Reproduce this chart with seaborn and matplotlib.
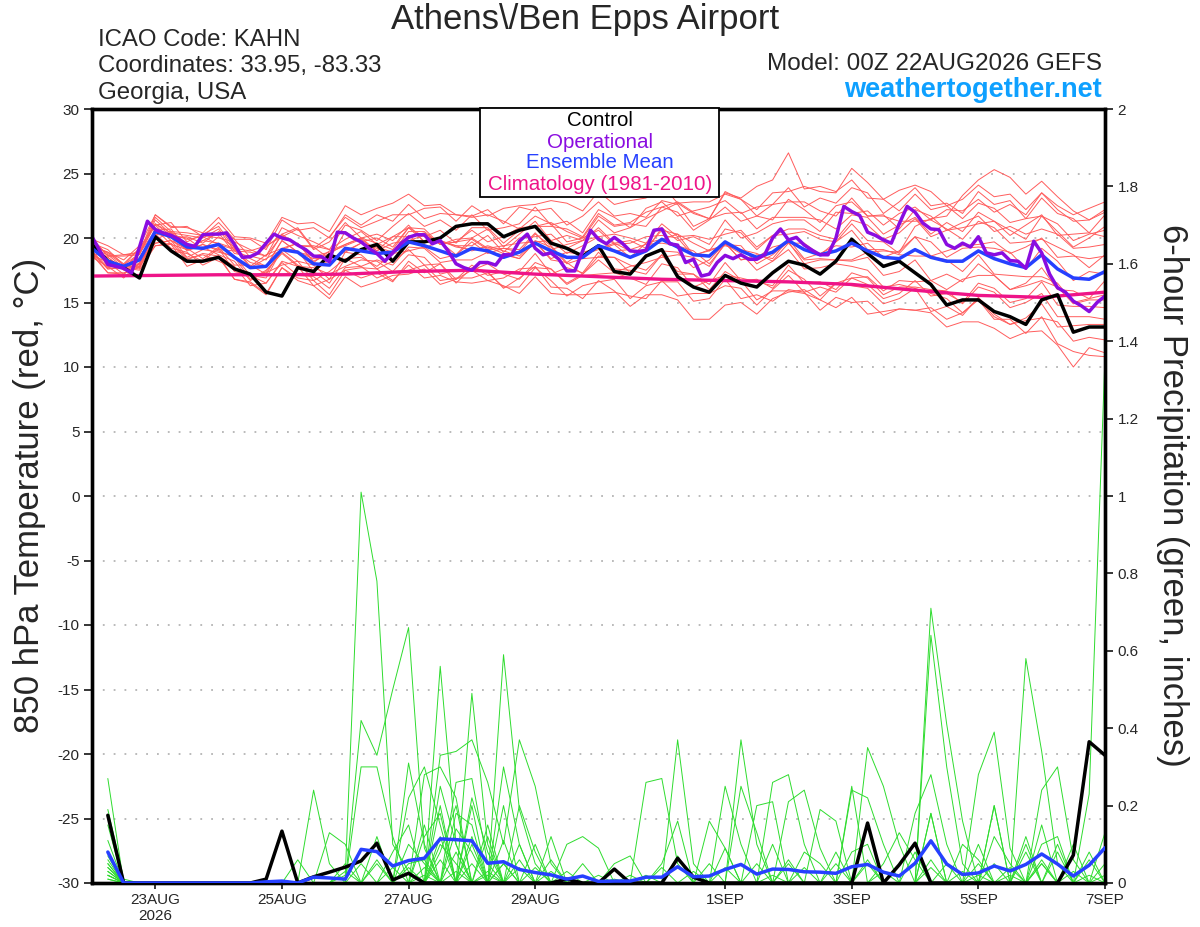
import matplotlib
matplotlib.use("Agg")
import matplotlib.pyplot as plt
from matplotlib.patches import Rectangle
import pandas as pd
import seaborn as sns

# ---------------------------------------------------------------------------
# data: GEFS 00Z 22AUG2026, KAHN. time axis in 6-hour steps from 00Z 22AUG
# ---------------------------------------------------------------------------
steps = list(range(65))                  # 00Z 22AUG .. 00Z 7SEP
prcp_steps = list(range(1, 65))          # 6-hour totals end at 06Z 22AUG onward
op_steps = [k / 2 for k in range(129)]   # operational run is 3-hourly
clim_steps = list(range(0, 65, 4))       # daily climatology

tick_steps = [4, 12, 20, 28, 40, 48, 56, 64]
tick_labels = ["23AUG\n2026", "25AUG", "27AUG", "29AUG", "1SEP", "3SEP", "5SEP", "7SEP"]

control_temp = [19.5, 18.2, 17.7, 16.9, 20.1, 19.0, 18.2, 18.2, 18.5, 17.6,
                17.2, 15.8, 15.5, 17.7, 17.4, 18.7, 18.2, 19.1, 19.5, 18.2,
                19.7, 19.7, 20.0, 20.9, 21.1, 21.1, 20.1, 20.6, 20.9, 19.6,
                19.2, 18.6, 19.4, 17.4, 17.2, 18.6, 19.1, 17.0, 16.2, 15.8,
                17.1, 16.5, 16.2, 17.3, 18.2, 17.9, 17.2, 18.2, 19.9, 18.8,
                17.8, 18.2, 17.3, 16.4, 14.8, 15.2, 15.2, 14.3, 13.9, 13.3,
                15.2, 15.6, 12.7, 13.1, 13.1]

mean_temp = [19.2, 18.2, 17.8, 18.3, 20.5, 20.1, 19.3, 19.2, 19.5, 18.5,
             17.7, 17.8, 19.1, 18.9, 18.0, 17.9, 19.2, 19.0, 18.8, 18.9,
             19.7, 19.4, 19.0, 18.6, 19.2, 19.0, 18.5, 18.9, 19.6, 19.0,
             18.5, 18.5, 19.4, 19.0, 18.5, 19.0, 19.9, 19.3, 18.7, 18.6,
             19.7, 19.0, 18.5, 18.9, 19.8, 19.1, 18.7, 19.0, 19.6, 19.0,
             18.5, 18.4, 19.1, 18.5, 18.2, 18.2, 19.0, 18.4, 18.0, 17.7,
             18.7, 17.6, 16.9, 16.8, 17.4]

op_temp = [20.1, 19.0, 17.95, 17.8, 17.65, 17.3, 19.3, 21.3, 20.65, 20.4,
           20.2, 19.9, 19.5, 19.35, 20.25, 20.3, 20.3, 20.4, 19.5, 18.5,
           18.55, 18.85, 19.6, 20.3, 20.0, 19.85, 19.45, 19.1, 18.6, 18.55,
           18.15, 20.45, 20.4, 20.0, 19.7, 19.2, 18.8, 18.2, 18.85, 19.55,
           20.05, 20.25, 20.25, 19.55, 19.8, 19.0, 18.0, 17.7, 17.5, 18.1,
           18.1, 17.9, 18.7, 18.7, 19.75, 20.3, 19.2, 18.7, 18.85, 18.35,
           17.45, 17.45, 19.0, 20.6, 19.9, 19.55, 20.05, 19.6, 19.0, 18.95,
           19.05, 20.6, 20.7, 19.55, 19.45, 18.1, 18.35, 17.05, 17.2, 18.1,
           18.65, 18.4, 18.7, 18.35, 18.35, 18.7, 20.0, 20.7, 19.85, 20.05,
           19.45, 19.05, 18.7, 18.7, 20.0, 22.45, 22.05, 21.75, 20.45, 20.2,
           19.85, 19.6, 21.1, 22.45, 22.0, 21.15, 20.7, 20.65, 19.5, 19.2,
           19.6, 19.3, 20.1, 18.85, 18.7, 18.85, 18.25, 18.2, 17.65, 19.75,
           18.85, 17.2, 16.15, 15.8, 15.1, 14.75, 14.3, 15.0, 15.5]

clim_temp = [17.05, 17.1, 17.15, 17.15, 17.2, 17.4, 17.5, 17.2, 17.0,
             16.8, 16.7, 16.6, 16.4, 15.95, 15.55, 15.4, 15.8]

member_temp = [
    [19.5, 18.8, 17.9, 19.2, 21.1, 20.4, 20.2, 20.0, 20.7, 19.0, 18.9, 18.6, 20.8, 20.2, 19.7, 19.1, 21.0,
     20.6, 19.8, 20.9, 21.9, 20.9, 21.4, 20.6, 21.8, 20.6, 20.8, 21.1, 22.4, 21.0, 21.3, 20.4, 22.2,
     21.6, 20.8, 22.3, 22.8, 21.7, 22.1, 22.4, 22.9, 21.9, 22.4, 22.6, 23.9, 22.4, 23.1, 22.7, 23.9,
     23.5, 21.9, 22.8, 23.9, 22.5, 22.7, 21.9, 23.6, 22.6, 22.9, 21.5, 23.1, 21.9, 21.5, 20.4, 21.8],
    [18.9, 17.6, 17.7, 17.5, 19.4, 19.6, 18.3, 18.8, 18.6, 17.8, 16.3, 16.5, 18.1, 17.1, 17.0, 16.1, 17.7,
     17.8, 16.9, 17.4, 17.5, 17.9, 16.7, 16.9, 16.9, 17.3, 16.2, 16.2, 17.7, 16.7, 15.5, 16.3, 16.6,
     16.8, 15.3, 16.3, 16.6, 16.6, 15.1, 15.3, 16.8, 15.3, 15.6, 15.1, 16.0, 15.8, 14.4, 15.4, 15.0,
     15.1, 14.0, 14.5, 14.4, 14.2, 13.1, 13.5, 13.5, 13.0, 12.2, 12.7, 12.8, 11.7, 10.0, 11.5, 11.1],
    [19.9, 18.6, 18.7, 18.9, 21.8, 20.8, 20.9, 20.1, 21.2, 19.9, 19.9, 19.1, 21.4, 20.6, 20.8, 20.0, 21.8,
     21.0, 21.8, 21.3, 22.6, 21.5, 21.9, 21.8, 21.7, 22.2, 21.1, 22.4, 22.1, 22.3, 21.0, 21.7, 22.8,
     21.7, 21.9, 21.6, 22.9, 22.6, 20.9, 21.5, 21.9, 22.0, 20.7, 21.6, 21.6, 21.6, 21.4, 20.7, 21.8,
     21.6, 20.3, 21.0, 21.6, 20.3, 21.2, 20.5, 22.0, 21.3, 20.2, 21.0, 21.8, 20.2, 20.3, 20.4, 20.1],
    [18.8, 17.3, 17.3, 17.8, 19.4, 19.5, 17.8, 18.3, 18.6, 16.8, 16.6, 15.7, 17.7, 16.9, 16.7, 15.6, 17.5,
     16.9, 17.3, 16.6, 18.2, 17.3, 18.0, 16.8, 17.9, 17.1, 17.4, 17.4, 18.8, 17.2, 17.7, 17.3, 18.9,
     17.6, 17.5, 17.2, 18.7, 17.2, 17.2, 16.4, 18.1, 16.7, 16.8, 16.1, 17.5, 16.8, 15.5, 16.5, 16.3,
     16.1, 14.9, 15.3, 16.1, 14.3, 14.7, 14.0, 15.4, 14.1, 13.3, 13.6, 13.8, 13.5, 12.0, 12.3, 12.1],
    [19.2, 18.7, 17.7, 18.8, 21.1, 20.2, 20.0, 19.1, 20.1, 19.3, 17.8, 18.7, 19.2, 19.6, 18.1, 19.0, 19.5,
     20.0, 19.6, 19.1, 20.8, 20.7, 19.5, 19.9, 20.0, 20.7, 19.3, 20.3, 21.3, 19.8, 20.2, 19.8, 21.4,
     20.4, 20.8, 21.5, 22.1, 22.7, 21.9, 21.5, 23.5, 23.1, 24.0, 24.5, 26.6, 23.8, 24.0, 23.6, 24.5,
     23.1, 23.0, 22.1, 23.4, 22.2, 22.5, 21.5, 22.7, 22.3, 21.2, 21.5, 21.7, 21.1, 19.8, 20.3, 20.6],
    [19.3, 17.9, 17.9, 17.7, 20.3, 20.1, 18.5, 19.1, 18.9, 18.6, 17.1, 16.9, 19.1, 18.2, 17.9, 16.8, 18.9,
     18.7, 17.6, 18.2, 19.1, 17.9, 18.0, 16.5, 17.7, 17.4, 16.1, 16.9, 17.8, 16.2, 16.1, 15.3, 16.7,
     15.9, 14.7, 15.6, 15.6, 15.2, 13.7, 13.7, 14.8, 15.0, 14.1, 15.3, 15.8, 16.0, 15.2, 16.5, 16.9,
     17.0, 15.9, 16.7, 16.6, 16.7, 16.0, 16.8, 17.1, 17.1, 16.0, 16.5, 17.7, 16.0, 15.9, 15.3, 16.7],
    [19.9, 19.4, 18.7, 18.8, 21.6, 20.5, 20.4, 20.2, 20.0, 19.7, 19.1, 18.6, 20.2, 19.4, 19.4, 19.1, 19.9,
     20.5, 19.5, 20.1, 20.1, 20.4, 19.5, 19.7, 19.9, 19.1, 19.2, 18.9, 20.3, 19.4, 18.1, 18.9, 19.2,
     19.6, 19.0, 19.0, 20.8, 19.8, 20.1, 19.5, 21.4, 20.0, 20.4, 21.1, 21.4, 21.4, 20.5, 22.0, 21.9,
     22.1, 21.0, 21.9, 22.4, 21.4, 22.2, 22.1, 23.0, 22.0, 22.6, 21.8, 23.5, 22.5, 21.8, 22.3, 22.8],
    [18.5, 17.8, 16.9, 18.1, 19.6, 19.8, 19.2, 18.4, 19.3, 17.9, 17.9, 17.2, 19.2, 19.0, 17.4, 18.3, 19.0,
     19.6, 19.2, 18.7, 20.2, 19.2, 19.8, 19.4, 19.4, 20.2, 18.9, 20.0, 20.1, 20.3, 19.2, 19.8, 20.8,
     19.6, 19.8, 19.2, 20.6, 20.3, 18.7, 19.0, 19.5, 19.4, 18.0, 18.7, 19.7, 18.0, 18.3, 18.3, 18.2,
     18.5, 17.1, 17.4, 18.3, 16.7, 17.2, 16.6, 18.0, 17.1, 16.0, 16.3, 16.7, 16.2, 14.9, 15.2, 15.2],
    [19.6, 17.9, 17.9, 17.9, 20.7, 19.5, 19.1, 19.3, 18.7, 18.2, 16.7, 17.4, 18.9, 17.9, 17.4, 16.5, 18.4,
     18.5, 17.8, 18.8, 19.0, 19.3, 18.4, 18.7, 19.7, 18.8, 19.2, 19.1, 20.4, 19.1, 19.5, 19.8, 20.1,
     20.3, 20.0, 19.6, 21.1, 20.1, 20.2, 19.9, 20.3, 20.6, 19.3, 20.2, 20.3, 20.5, 19.9, 19.7, 21.1,
     19.8, 19.7, 18.8, 20.1, 19.7, 18.5, 19.2, 19.3, 19.2, 18.9, 17.6, 19.2, 18.2, 16.7, 17.4, 17.2],
    [19.3, 18.9, 18.0, 19.2, 21.0, 21.2, 19.7, 20.3, 20.9, 19.2, 19.0, 19.4, 20.1, 20.7, 19.1, 19.7, 21.2,
     20.0, 20.3, 19.8, 21.0, 19.7, 19.8, 19.3, 19.1, 19.3, 18.8, 18.4, 19.7, 18.3, 18.1, 17.2, 18.6,
     18.5, 17.3, 18.7, 19.0, 18.9, 17.7, 18.3, 19.6, 18.3, 18.7, 18.4, 19.9, 18.4, 18.8, 19.4, 19.3,
     19.6, 18.5, 19.0, 20.1, 18.6, 19.0, 19.4, 19.5, 19.7, 18.8, 19.3, 20.0, 18.5, 18.6, 18.4, 18.6],
    [19.0, 17.7, 17.9, 18.0, 19.9, 20.4, 19.0, 19.5, 19.1, 19.0, 18.1, 17.8, 19.8, 18.9, 18.6, 18.9, 19.4,
     19.9, 19.0, 20.1, 20.8, 20.1, 20.6, 19.6, 20.8, 20.8, 19.6, 20.6, 20.9, 21.2, 20.5, 20.0, 21.7,
     20.9, 21.1, 20.9, 22.4, 22.0, 20.6, 21.4, 22.4, 21.3, 21.7, 21.4, 23.0, 22.2, 21.2, 22.5, 22.8,
     21.7, 21.8, 20.7, 22.2, 21.7, 20.6, 21.2, 21.7, 20.5, 20.9, 20.3, 20.7, 20.3, 19.2, 19.3, 19.5],
    [19.6, 19.1, 17.9, 18.8, 21.0, 19.8, 19.1, 19.5, 19.0, 18.5, 16.8, 17.5, 18.8, 17.8, 17.7, 17.2, 17.8,
     18.3, 18.2, 17.4, 18.7, 18.5, 17.2, 17.5, 17.5, 18.0, 17.2, 16.8, 18.1, 17.6, 16.4, 17.1, 17.2,
     17.3, 16.9, 16.4, 18.0, 17.7, 16.2, 16.7, 17.1, 16.9, 16.6, 16.3, 17.9, 16.5, 16.6, 16.0, 17.3,
     16.9, 15.6, 16.2, 16.2, 16.0, 15.9, 14.9, 16.2, 15.8, 14.6, 15.0, 15.7, 13.9, 13.9, 13.9, 13.7],
    [18.9, 17.6, 17.8, 17.8, 20.8, 20.0, 20.1, 19.6, 20.5, 19.9, 18.5, 19.3, 20.3, 20.8, 19.2, 20.1, 21.6,
     20.8, 21.3, 21.8, 21.8, 22.3, 22.4, 21.3, 22.5, 21.7, 22.3, 22.5, 22.6, 22.9, 22.7, 22.1, 23.6,
     22.6, 22.9, 23.1, 24.1, 22.7, 22.8, 22.8, 23.4, 23.0, 21.7, 22.6, 22.8, 22.8, 22.1, 21.7, 23.1,
     21.7, 21.7, 21.3, 21.3, 21.4, 20.7, 19.9, 21.3, 20.8, 19.6, 19.7, 19.9, 19.3, 18.7, 17.7, 18.7],
    [19.5, 17.8, 17.8, 17.6, 20.3, 19.2, 18.9, 17.9, 18.5, 16.8, 16.5, 15.6, 17.7, 16.7, 16.3, 15.3, 17.0,
     16.2, 16.6, 17.1, 17.2, 17.6, 16.4, 16.8, 17.5, 16.7, 16.9, 17.6, 17.7, 17.6, 16.5, 17.2, 18.3,
     17.3, 17.8, 18.1, 18.5, 18.7, 18.5, 17.8, 19.6, 18.3, 18.5, 19.3, 19.6, 19.6, 18.7, 19.7, 20.6,
     19.1, 19.1, 18.7, 18.6, 18.6, 18.3, 17.4, 18.7, 17.2, 17.1, 17.0, 17.0, 16.5, 15.0, 15.3, 15.6],
    [18.8, 18.5, 17.6, 18.8, 20.6, 20.7, 19.2, 19.8, 20.4, 18.8, 18.6, 18.3, 20.3, 19.4, 19.3, 18.4, 20.5,
     19.7, 20.0, 19.3, 20.8, 19.7, 19.7, 19.4, 19.0, 19.4, 19.0, 18.6, 19.8, 19.3, 18.0, 18.4, 18.5,
     18.5, 17.9, 17.5, 18.7, 17.4, 17.2, 16.0, 17.4, 16.7, 15.2, 15.9, 15.9, 15.7, 15.2, 14.6, 15.4,
     14.1, 14.3, 14.5, 14.4, 14.6, 13.7, 14.2, 15.3, 13.9, 13.3, 13.8, 14.9, 13.1, 13.2, 13.3, 13.3],
    [20.0, 18.6, 18.6, 18.7, 21.4, 20.3, 19.9, 20.1, 19.5, 19.1, 18.4, 17.8, 19.8, 18.9, 18.4, 18.4, 18.9,
     19.6, 19.3, 18.9, 20.5, 20.5, 19.5, 19.7, 20.6, 19.7, 20.1, 20.8, 20.9, 20.9, 20.7, 20.1, 21.9,
     21.0, 21.2, 22.0, 22.4, 22.8, 22.0, 21.5, 23.6, 23.0, 22.2, 23.5, 23.6, 24.0, 23.6, 23.5, 25.4,
     24.3, 23.0, 23.7, 24.1, 23.6, 22.5, 23.0, 24.1, 23.2, 23.4, 22.2, 23.5, 22.2, 21.3, 21.4, 22.0],
    [18.7, 17.3, 17.2, 18.0, 20.0, 19.0, 18.8, 18.2, 19.2, 17.4, 17.1, 17.3, 17.9, 18.2, 16.7, 17.4, 18.4,
     17.8, 18.3, 17.9, 19.3, 19.2, 18.1, 18.3, 18.3, 18.9, 18.7, 18.4, 19.7, 18.4, 18.9, 18.7, 19.1,
     19.5, 18.5, 19.6, 19.9, 20.3, 19.6, 19.0, 20.7, 20.4, 19.1, 20.2, 20.7, 20.7, 20.2, 19.9, 21.4,
     21.0, 19.9, 20.4, 21.5, 20.1, 20.6, 20.8, 21.1, 21.3, 20.6, 19.9, 21.7, 20.5, 19.3, 20.0, 20.9],
    [19.4, 18.9, 18.3, 19.4, 21.8, 20.9, 20.8, 20.4, 21.6, 20.1, 20.0, 19.6, 21.6, 21.1, 21.2, 20.5, 22.5,
     21.8, 22.3, 22.7, 23.4, 22.5, 22.6, 21.8, 21.6, 21.8, 21.3, 20.7, 21.7, 21.1, 19.7, 20.0, 20.6,
     19.5, 19.6, 20.1, 20.2, 20.0, 18.6, 19.1, 19.4, 19.1, 18.8, 18.2, 19.6, 18.3, 18.4, 18.3, 18.3,
     18.9, 19.0, 18.9, 20.9, 21.5, 21.7, 23.3, 24.5, 25.3, 24.7, 23.4, 24.4, 23.2, 22.1, 21.4, 22.2],
    [18.7, 18.1, 17.2, 18.0, 19.6, 19.8, 18.4, 18.7, 18.2, 17.7, 17.1, 16.5, 18.2, 17.8, 16.3, 16.8, 17.5,
     17.7, 17.6, 16.7, 17.9, 16.9, 17.1, 16.6, 16.5, 16.7, 16.3, 15.7, 17.0, 15.7, 15.6, 15.6, 15.7,
     15.8, 15.5, 15.3, 16.7, 15.5, 15.7, 15.7, 16.3, 16.1, 14.8, 16.0, 17.1, 15.8, 16.2, 15.8, 16.9,
     16.4, 15.3, 15.7, 16.7, 15.5, 15.7, 15.0, 16.5, 16.1, 15.0, 15.3, 16.6, 14.8, 14.7, 14.7, 14.6],
    [19.3, 18.5, 17.5, 18.5, 20.3, 20.5, 19.2, 19.8, 19.6, 19.2, 17.7, 18.4, 19.1, 19.6, 18.2, 18.8, 19.5,
     20.0, 19.0, 19.6, 19.8, 20.2, 19.7, 18.7, 20.0, 19.2, 19.4, 19.6, 19.7, 19.8, 18.8, 19.4, 20.1,
     19.0, 19.1, 19.5, 19.6, 19.4, 19.0, 18.0, 19.5, 18.8, 17.5, 18.2, 19.1, 17.6, 17.7, 18.0, 17.8,
     17.5, 16.2, 16.4, 16.1, 15.7, 15.3, 14.2, 15.2, 13.7, 13.7, 12.6, 13.9, 11.8, 11.2, 10.9, 10.8],
]

control_prcp = [0.175, 0, 0, 0, 0, 0, 0, 0, 0, 0, 0.01, 0.134, 0, 0.016, 0.028, 0.041,
                0.057, 0.103, 0.008, 0.025, 0, 0, 0, 0, 0, 0, 0, 0, 0, 0.01, 0, 0,
                0.036, 0, 0, 0, 0.064, 0.015, 0, 0, 0, 0, 0, 0, 0, 0, 0, 0,
                0.155, 0, 0.047, 0.103, 0, 0, 0, 0, 0, 0, 0, 0, 0, 0.072, 0.365, 0.33]

mean_prcp = [0.08, 0, 0, 0, 0, 0, 0, 0, 0, 0, 0.003, 0.005, 0, 0.015, 0.013, 0.01,
             0.087, 0.081, 0.044, 0.058, 0.064, 0.114, 0.112, 0.109, 0.051, 0.055, 0.035, 0.027, 0.021, 0.01, 0.018, 0.004,
             0.005, 0.005, 0.015, 0.015, 0.042, 0.016, 0.018, 0.035, 0.048, 0.023, 0.036, 0.035, 0.029, 0.028, 0.025, 0.042,
             0.048, 0.028, 0.018, 0.051, 0.109, 0.049, 0.022, 0.026, 0.044, 0.031, 0.048, 0.075, 0.049, 0.018, 0.046, 0.091]

member_prcp = [
    [0.27, 0, 0, 0, 0, 0, 0, 0, 0, 0, 0, 0, 0, 0, 0, 0.02,
     1.01, 0.78, 0.10, 0.03, 0, 0.12, 0, 0, 0, 0.05, 0, 0, 0, 0, 0, 0,
     0, 0, 0, 0, 0, 0, 0, 0.09, 0, 0, 0, 0.05, 0, 0, 0, 0,
     0, 0, 0, 0, 0.18, 0, 0, 0, 0, 0, 0, 0.05, 0, 0, 0, 0],
    [0.19, 0.01, 0, 0, 0, 0, 0, 0, 0, 0, 0, 0, 0, 0, 0, 0,
     0.42, 0.33, 0.50, 0.66, 0.09, 0, 0, 0.20, 0, 0, 0.10, 0, 0, 0, 0, 0,
     0, 0, 0, 0, 0.07, 0, 0, 0, 0.37, 0.10, 0, 0, 0, 0, 0, 0,
     0.05, 0, 0, 0, 0, 0, 0, 0, 0.20, 0, 0, 0, 0.10, 0, 0, 0],
    [0.15, 0, 0, 0, 0, 0, 0, 0, 0, 0, 0, 0, 0, 0, 0, 0,
     0.30, 0.30, 0.12, 0, 0, 0.56, 0.10, 0, 0.03, 0, 0, 0, 0, 0, 0, 0,
     0, 0, 0.26, 0.27, 0.05, 0, 0, 0, 0, 0, 0, 0, 0, 0, 0, 0.25,
     0, 0, 0, 0, 0.06, 0, 0, 0, 0, 0, 0.10, 0, 0, 0, 0, 0.13],
    [0.11, 0, 0, 0, 0, 0, 0, 0, 0, 0, 0, 0, 0, 0.24, 0.05, 0,
     0, 0, 0, 0.31, 0.10, 0, 0, 0.49, 0.10, 0, 0, 0, 0.12, 0, 0, 0,
     0, 0, 0, 0, 0, 0, 0, 0, 0, 0, 0.26, 0.28, 0.10, 0, 0, 0,
     0, 0, 0, 0, 0.71, 0.41, 0.16, 0, 0, 0, 0, 0, 0, 0, 0.02, 0],
    [0.08, 0, 0, 0, 0, 0, 0, 0, 0, 0, 0, 0, 0, 0, 0.13, 0.10,
     0, 0, 0, 0, 0.28, 0.30, 0.22, 0, 0, 0.59, 0.19, 0.05, 0, 0, 0, 0,
     0, 0, 0, 0, 0.37, 0.05, 0, 0, 0, 0, 0, 0, 0, 0, 0, 0,
     0.35, 0.25, 0.10, 0, 0, 0, 0, 0, 0, 0, 0, 0.05, 0, 0, 0, 0],
    [0.05, 0, 0, 0, 0, 0, 0, 0, 0, 0, 0, 0, 0.06, 0, 0, 0,
     0, 0, 0, 0, 0, 0.33, 0.34, 0.37, 0.26, 0.10, 0.37, 0.25, 0.05, 0, 0, 0,
     0, 0, 0, 0, 0, 0, 0, 0.25, 0.10, 0, 0, 0, 0, 0, 0, 0,
     0, 0, 0, 0, 0, 0, 0, 0.28, 0.39, 0.09, 0, 0, 0, 0, 0, 0],
    [0.04, 0, 0, 0, 0, 0, 0, 0, 0, 0, 0, 0, 0, 0, 0, 0.05,
     0, 0.12, 0, 0, 0.15, 0, 0.26, 0.27, 0.05, 0, 0, 0, 0, 0, 0, 0,
     0.05, 0.07, 0, 0, 0, 0, 0, 0, 0, 0, 0, 0, 0, 0.19, 0.16, 0,
     0, 0, 0, 0, 0.64, 0.30, 0.05, 0, 0, 0, 0, 0, 0, 0, 0.23, 1.36],
    [0.03, 0, 0, 0, 0, 0, 0, 0, 0, 0, 0, 0, 0, 0, 0, 0,
     0, 0, 0.08, 0.15, 0, 0.20, 0, 0, 0, 0.30, 0.10, 0, 0, 0.10, 0.12, 0.09,
     0, 0, 0, 0, 0, 0, 0, 0, 0, 0.20, 0.21, 0, 0, 0, 0, 0,
     0, 0, 0, 0, 0, 0, 0, 0, 0, 0, 0.58, 0.34, 0.05, 0, 0, 0],
    [0.02, 0, 0, 0, 0, 0, 0, 0, 0, 0, 0, 0, 0, 0, 0, 0,
     0.05, 0, 0, 0.10, 0.05, 0, 0.18, 0.15, 0, 0, 0, 0.10, 0, 0, 0, 0,
     0, 0, 0, 0, 0, 0, 0.16, 0.09, 0, 0, 0, 0, 0, 0, 0, 0.24,
     0.22, 0.10, 0, 0, 0, 0, 0, 0, 0.20, 0, 0, 0.24, 0.30, 0.06, 0, 0],
    [0.02, 0, 0, 0, 0, 0, 0, 0, 0, 0, 0, 0, 0, 0, 0, 0,
     0, 0.05, 0, 0, 0, 0.25, 0.10, 0, 0, 0.11, 0, 0, 0.06, 0, 0, 0,
     0, 0, 0, 0.05, 0.16, 0, 0, 0, 0, 0, 0, 0.21, 0.24, 0.09, 0, 0,
     0, 0, 0, 0.18, 0.28, 0.10, 0, 0, 0, 0, 0, 0, 0, 0.10, 0, 0],
    [0.06, 0, 0, 0, 0, 0, 0, 0, 0, 0, 0, 0, 0, 0, 0, 0,
     0, 0, 0, 0.22, 0.30, 0.15, 0, 0.10, 0, 0, 0, 0, 0, 0.03, 0, 0,
     0, 0, 0, 0, 0, 0, 0, 0, 0.25, 0.13, 0, 0, 0, 0, 0.05, 0,
     0, 0, 0, 0, 0.18, 0, 0, 0.10, 0, 0.04, 0, 0, 0, 0, 0.08, 0],
    [0.01, 0, 0, 0, 0, 0, 0, 0, 0, 0, 0, 0, 0, 0, 0, 0.03,
     0, 0, 0.04, 0, 0, 0.08, 0.20, 0, 0.12, 0, 0.06, 0, 0, 0, 0, 0.02,
     0, 0, 0, 0, 0, 0.03, 0, 0, 0, 0, 0.10, 0, 0, 0, 0, 0,
     0, 0.05, 0.13, 0.06, 0, 0, 0, 0, 0, 0, 0, 0.10, 0.12, 0, 0, 0],
    [0.03, 0, 0, 0, 0, 0, 0, 0, 0, 0, 0, 0, 0, 0, 0, 0,
     0, 0, 0, 0, 0.12, 0.18, 0, 0.22, 0.08, 0, 0, 0.04, 0, 0, 0, 0,
     0, 0, 0.02, 0, 0, 0, 0, 0, 0, 0, 0, 0, 0.08, 0.05, 0, 0,
     0, 0, 0, 0, 0, 0, 0.10, 0.06, 0, 0, 0.08, 0, 0, 0, 0, 0.05],
    [0, 0, 0, 0, 0, 0, 0, 0, 0, 0, 0, 0, 0, 0, 0, 0,
     0, 0.06, 0, 0.04, 0, 0, 0.14, 0.08, 0, 0.20, 0, 0, 0, 0, 0.05, 0,
     0, 0, 0, 0, 0, 0, 0.05, 0, 0, 0, 0, 0, 0, 0, 0, 0.08,
     0.10, 0, 0, 0, 0, 0, 0, 0, 0.12, 0.05, 0, 0, 0, 0, 0, 0],
    [0.05, 0, 0, 0, 0, 0, 0, 0, 0, 0, 0, 0, 0, 0, 0, 0,
     0, 0, 0, 0, 0, 0.10, 0.05, 0, 0.15, 0, 0.20, 0.08, 0, 0, 0, 0,
     0, 0, 0, 0.04, 0, 0, 0, 0, 0, 0, 0, 0.06, 0, 0, 0, 0,
     0, 0, 0, 0.08, 0, 0.05, 0, 0, 0, 0, 0, 0.15, 0, 0.03, 0, 0],
    [0.07, 0, 0, 0, 0, 0, 0, 0, 0, 0, 0, 0, 0, 0, 0, 0,
     0, 0, 0, 0.05, 0.06, 0, 0, 0.12, 0, 0, 0, 0, 0.03, 0, 0, 0,
     0, 0, 0, 0, 0, 0, 0, 0.04, 0, 0, 0, 0, 0, 0, 0.08, 0,
     0, 0, 0, 0, 0, 0, 0, 0.05, 0, 0, 0, 0, 0.08, 0, 0.06, 0],
    [0.02, 0, 0, 0, 0, 0, 0, 0, 0, 0, 0, 0, 0, 0, 0, 0,
     0, 0, 0, 0, 0.04, 0, 0.08, 0, 0, 0.05, 0, 0, 0, 0, 0, 0,
     0, 0, 0, 0, 0, 0, 0, 0, 0, 0.05, 0, 0, 0, 0, 0, 0,
     0.06, 0, 0, 0, 0.04, 0, 0, 0, 0.05, 0, 0.12, 0, 0, 0, 0, 0],
    [0.04, 0, 0, 0, 0, 0, 0, 0, 0, 0, 0, 0, 0, 0, 0, 0,
     0, 0, 0, 0, 0, 0.06, 0, 0.05, 0, 0, 0, 0, 0, 0, 0, 0,
     0, 0.02, 0, 0, 0, 0, 0, 0, 0, 0, 0, 0, 0.04, 0, 0, 0,
     0, 0, 0, 0, 0, 0, 0.03, 0, 0, 0, 0, 0.06, 0, 0, 0, 0],
    [0.01, 0, 0, 0, 0, 0, 0, 0, 0, 0, 0, 0, 0, 0, 0, 0,
     0, 0, 0, 0, 0, 0, 0.03, 0, 0, 0, 0.04, 0, 0, 0, 0, 0,
     0.01, 0, 0, 0, 0, 0, 0, 0, 0, 0, 0, 0, 0, 0, 0, 0,
     0, 0.03, 0, 0, 0, 0, 0, 0, 0, 0.02, 0, 0, 0, 0, 0, 0],
    [0, 0, 0, 0, 0, 0, 0, 0, 0, 0, 0, 0, 0, 0, 0, 0,
     0, 0, 0, 0, 0.02, 0, 0, 0, 0.02, 0, 0, 0, 0, 0, 0, 0,
     0, 0, 0, 0, 0, 0, 0, 0, 0, 0, 0.02, 0, 0, 0, 0, 0,
     0, 0, 0, 0, 0, 0, 0, 0.02, 0, 0, 0, 0, 0, 0, 0, 0.02],
]

# colours
RED = "#ff5c5c"
GREEN = "#2edc2e"
PURPLE = "#8a0ce0"
BLUE = "#2640ff"
PINK = "#ee1488"

# long-form tables for the ensemble spaghetti
temp_df = pd.DataFrame([(i, t, v) for i, m in enumerate(member_temp) for t, v in zip(steps, m)],
                       columns=["member", "step", "temp"])
prcp_df = pd.DataFrame([(i, t, v) for i, m in enumerate(member_prcp) for t, v in zip(prcp_steps, m)],
                       columns=["member", "step", "prcp"])

sns.set_style("white")
plt.rcParams['font.family'] = ['Liberation Sans', 'DejaVu Sans']

fig = plt.figure(figsize=(12, 9.27), dpi=100)
ax = fig.add_axes([92 / 1200, 44 / 927, 1013 / 1200, 774 / 927])
ax2 = ax.twinx()

# temperature (left axis)
sns.lineplot(data=temp_df, x="step", y="temp", units="member", estimator=None,
             color=RED, lw=0.7, ax=ax, legend=False, zorder=2)
sns.lineplot(x=clim_steps, y=clim_temp, color=PINK, lw=2.4, ax=ax, zorder=3)
sns.lineplot(x=steps, y=control_temp, color="black", lw=2.5, ax=ax, zorder=4)
sns.lineplot(x=steps, y=mean_temp, color=BLUE, lw=2.5, ax=ax, zorder=5)
sns.lineplot(x=op_steps, y=op_temp, color=PURPLE, lw=2.5, ax=ax, zorder=6)

# precipitation (right axis)
sns.lineplot(data=prcp_df, x="step", y="prcp", units="member", estimator=None,
             color=GREEN, lw=0.7, ax=ax2, legend=False, zorder=2)
sns.lineplot(x=prcp_steps, y=control_prcp, color="black", lw=2.5, ax=ax2, zorder=4)
sns.lineplot(x=prcp_steps, y=mean_prcp, color=BLUE, lw=2.5, ax=ax2, zorder=5)

ax.set_xlim(0, 64)
ax.set_ylim(-30, 30)
ax2.set_ylim(0, 2)

ax.set_yticks(range(-30, 31, 5))
ax.set_yticklabels([str(v) for v in range(-30, 31, 5)])
ax2.set_yticks([i / 5 for i in range(11)])
ax2.set_yticklabels(["0", "0.2", "0.4", "0.6", "0.8", "1", "1.2", "1.4", "1.6", "1.8", "2"])
ax.set_xticks(tick_steps)
ax.set_xticklabels(tick_labels)

ax.yaxis.grid(True, color="#b4b4b4", linestyle=(0, (1, 5)), linewidth=1.3)
ax.xaxis.grid(False)
ax.set_axisbelow(True)

ax.tick_params(axis="y", left=True, direction="out", length=6, width=1.3, labelsize=11, pad=3)
ax.tick_params(axis="x", bottom=True, direction="out", length=4, width=1.3, labelsize=11, pad=3)
ax2.tick_params(axis="y", right=True, direction="out", length=6, width=1.3, labelsize=11, pad=3)
for a in (ax, ax2):
    a.set_xlabel("")
    a.set_ylabel("")
    for s in a.spines.values():
        s.set_linewidth(2.4)
        s.set_color("black")

# axis titles
fig.text(30 / 1200, 1 - 495 / 927, "850 hPa Temperature (red, °C)", rotation=90,
         ha="center", va="center", fontsize=25)
fig.text(1172 / 1200, 1 - 495 / 927, "6-hour Precipitation (green, inches)", rotation=270,
         ha="center", va="center", fontsize=25)

# header
fig.text(585 / 1200, 1 - 19 / 927, "Athens\\/Ben Epps Airport", ha="center", va="center", fontsize=25)
fig.text(98 / 1200, 1 - 40 / 927, "ICAO Code: KAHN", ha="left", va="center", fontsize=17.3)
fig.text(98 / 1200, 1 - 66 / 927, "Coordinates: 33.95, -83.33", ha="left", va="center", fontsize=17.3)
fig.text(98 / 1200, 1 - 93 / 927, "Georgia, USA", ha="left", va="center", fontsize=17.3)
fig.text(1102 / 1200, 1 - 64 / 927, "Model: 00Z 22AUG2026 GEFS", ha="right", va="center", fontsize=17.5)
fig.text(1102 / 1200, 1 - 90 / 927, "weathertogether.net", ha="right", va="center",
         fontsize=19.5, fontweight="bold", color="#0ea0ff")

# legend box
fig.add_artist(Rectangle((480 / 1200, 1 - 197 / 927), 239 / 1200, 89 / 927,
                         transform=fig.transFigure, facecolor="white", edgecolor="black",
                         lw=1.3, zorder=10))
legend_rows = [("Control", "black", 121), ("Operational", PURPLE, 142),
               ("Ensemble Mean", BLUE, 163), ("Climatology (1981-2010)", PINK, 185)]
for label, col, ypx in legend_rows:
    fig.text(600 / 1200, 1 - ypx / 927, label, ha="center", va="center",
             fontsize=14.8, color=col, zorder=11)

fig.savefig("out.png", dpi=100)
